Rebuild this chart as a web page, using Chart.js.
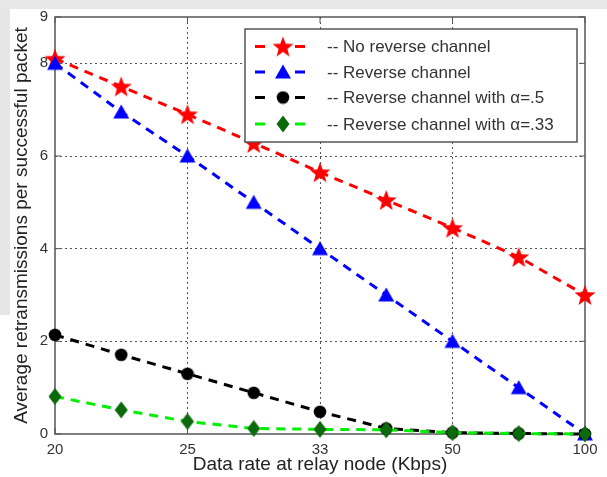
<!DOCTYPE html>
<html>
<head>
<meta charset="utf-8">
<script src="https://cdn.jsdelivr.net/npm/chart.js@4.4.0/dist/chart.umd.min.js"></script>
<style>
  html, body { margin: 0; padding: 0; background: #ffffff; }
  #wrap { position: relative; width: 607px; height: 477px; overflow: hidden; }
  .strip { position: absolute; background: #e8e8e8; }
  canvas { position: absolute; left: 0; top: 0; }
</style>
</head>
<body>
<div id="wrap">
  <div class="strip" style="left:0;top:0;width:607px;height:9px;"></div>
  <div class="strip" style="left:0;top:9px;width:10px;height:306px;background:#e6e6e6;"></div>
  <canvas id="c" width="607" height="477"></canvas>
</div>
<script>
// ---- data ----
const xLabels = ['20', '', '25', '', '33', '', '50', '', '100'];
const noReverse = [8.1, 7.5, 6.9, 6.28, 5.65, 5.05, 4.45, 3.82, 3.0];
const reverseCh = [8.0, 6.95, 6.0, 5.0, 4.0, 3.0, 2.0, 1.0, 0.0];
const alphaHalf = [2.14, 1.71, 1.3, 0.89, 0.48, 0.12, 0.03, 0.01, 0.0];
const alphaThird = [0.81, 0.52, 0.27, 0.12, 0.1, 0.09, 0.03, 0.01, 0.0];
const seriesNames = ['-- No reverse channel', '-- Reverse channel', '-- Reverse channel with \u03B1=.5', '-- Reverse channel with \u03B1=.33'];
const yTicks = [0, 2, 4, 6, 8, 9];

// ---- marker images ----
function mk(w, h, draw) {
  const c = document.createElement('canvas');
  c.width = w; c.height = h;
  const g = c.getContext('2d');
  draw(g, w / 2, h / 2);
  return c;
}
const starImg = mk(24, 24, (g, cx, cy) => {
  g.beginPath();
  for (let i = 0; i < 10; i++) {
    const r = i % 2 === 0 ? 11 : 4.6;
    const a = -Math.PI / 2 + i * Math.PI / 5;
    const x = cx + r * Math.cos(a), y = cy + 1 + r * Math.sin(a);
    i === 0 ? g.moveTo(x, y) : g.lineTo(x, y);
  }
  g.closePath(); g.fillStyle = '#ff0000'; g.fill();
});
const triImg = mk(18, 16, (g, cx, cy) => {
  g.beginPath();
  g.moveTo(cx, cy - 7.5); g.lineTo(cx + 8, cy + 6.5); g.lineTo(cx - 8, cy + 6.5);
  g.closePath(); g.fillStyle = '#0000ff'; g.fill();
});
const dotImg = mk(14, 14, (g, cx, cy) => {
  g.beginPath(); g.arc(cx, cy, 6.3, 0, Math.PI * 2);
  g.fillStyle = '#000000'; g.fill();
});
const diaImg = mk(14, 18, (g, cx, cy) => {
  g.beginPath();
  g.moveTo(cx, cy - 8.5); g.lineTo(cx + 6.5, cy); g.lineTo(cx, cy + 8.5); g.lineTo(cx - 6.5, cy);
  g.closePath(); g.fillStyle = '#0b6a0b'; g.fill();
});

const lineColors = ['#ff0000', '#0000ff', '#000000', '#00ee00'];
const markers = [starImg, triImg, dotImg, diaImg];
const seriesData = [noReverse, reverseCh, alphaHalf, alphaThird];

// ---- plugins ----
const boxPlugin = {
  id: 'boxTicks',
  beforeDatasetsDraw(chart) {
    const { ctx, chartArea: a, scales } = chart;
    ctx.save();
    ctx.strokeStyle = '#555';
    ctx.lineWidth = 1.5;
    ctx.strokeRect(a.left, a.top, a.right - a.left, a.bottom - a.top);
    ctx.lineWidth = 1;
    ctx.beginPath();
    const tl = 6;
    xLabels.forEach((l, i) => {
      if (!l) return;
      const x = scales.x.getPixelForValue(i);
      ctx.moveTo(x, a.bottom); ctx.lineTo(x, a.bottom - tl);
      ctx.moveTo(x, a.top); ctx.lineTo(x, a.top + tl);
    });
    yTicks.forEach(v => {
      const y = scales.y.getPixelForValue(v);
      ctx.moveTo(a.left, y); ctx.lineTo(a.left + tl, y);
      ctx.moveTo(a.right, y); ctx.lineTo(a.right - tl, y);
    });
    ctx.stroke();
    ctx.restore();
  }
};

const legendPlugin = {
  id: 'inLegend',
  afterDraw(chart) {
    const ctx = chart.ctx;
    const L = 245, T = 29, R = 577, B = 142;
    ctx.save();
    ctx.fillStyle = '#ffffff';
    ctx.fillRect(L, T, R - L, B - T);
    ctx.strokeStyle = '#555';
    ctx.lineWidth = 1.5;
    ctx.strokeRect(L, T, R - L, B - T);
    const rows = [46.5, 72, 97.5, 124];
    rows.forEach((y, i) => {
      ctx.strokeStyle = lineColors[i];
      ctx.lineWidth = 3;
      ctx.beginPath();
      ctx.moveTo(255, y); ctx.lineTo(265, y);
      ctx.moveTo(295, y); ctx.lineTo(305, y);
      ctx.stroke();
      const m = markers[i];
      ctx.drawImage(m, 283 - m.width / 2, y - m.height / 2);
      ctx.fillStyle = '#333';
      ctx.font = '17px "Liberation Sans", Arial, sans-serif';
      ctx.textBaseline = 'middle';
      ctx.textAlign = 'left';
      ctx.fillText(seriesNames[i], 327, y + 1);
    });
    ctx.restore();
  }
};

const datasets = seriesData.map((d, i) => ({
  label: seriesNames[i],
  data: d,
  borderColor: lineColors[i],
  backgroundColor: lineColors[i],
  borderWidth: 3,
  borderDash: [9, 7],
  pointStyle: markers[i],
  pointRadius: 7,
  tension: 0,
  clip: false,
  order: 3 - i
}));

const fontFam = '"Liberation Sans", Arial, sans-serif';

new Chart(document.getElementById('c'), {
  type: 'line',
  data: { labels: xLabels, datasets },
  options: {
    responsive: false,
    devicePixelRatio: 1,
    animation: false,
    layout: { padding: { top: 17, right: 22, bottom: 0, left: 0 } },
    plugins: { legend: { display: false }, tooltip: { enabled: false } },
    scales: {
      x: {
        type: 'category',
        offset: false,
        border: { display: false, dash: [2, 3] },
        grid: {
          drawTicks: false,
          lineWidth: 1,
          color: (c) => (c.tick && c.tick.label && c.index !== 0 && c.index !== xLabels.length - 1) ? '#555' : 'rgba(0,0,0,0)'
        },
        ticks: {
          autoSkip: false, maxRotation: 0, padding: 7,
          color: '#333', font: { size: 15, family: fontFam }
        },
        title: {
          display: true, text: 'Data rate at relay node (Kbps)',
          color: '#222', font: { size: 19, family: fontFam },
          padding: { top: 0, bottom: 1 }
        },
        afterFit: (s) => { s.height = 43; }
      },
      y: {
        min: 0, max: 9,
        border: { display: false, dash: [2, 3] },
        grid: {
          drawTicks: false,
          lineWidth: 1,
          color: (c) => (c.tick && c.tick.value > 0 && c.tick.value < 9) ? '#555' : 'rgba(0,0,0,0)'
        },
        afterBuildTicks: (s) => { s.ticks = yTicks.map(v => ({ value: v })); },
        ticks: {
          padding: 7, color: '#333', font: { size: 15, family: fontFam }
        },
        title: {
          display: true, text: 'Average retransmissions per successful packet',
          color: '#222', font: { size: 19, family: fontFam },
          padding: { top: 10, bottom: 0 }
        },
        afterFit: (s) => { s.width = 55; }
      }
    }
  },
  plugins: [boxPlugin, legendPlugin]
});
</script>
</body>
</html>
